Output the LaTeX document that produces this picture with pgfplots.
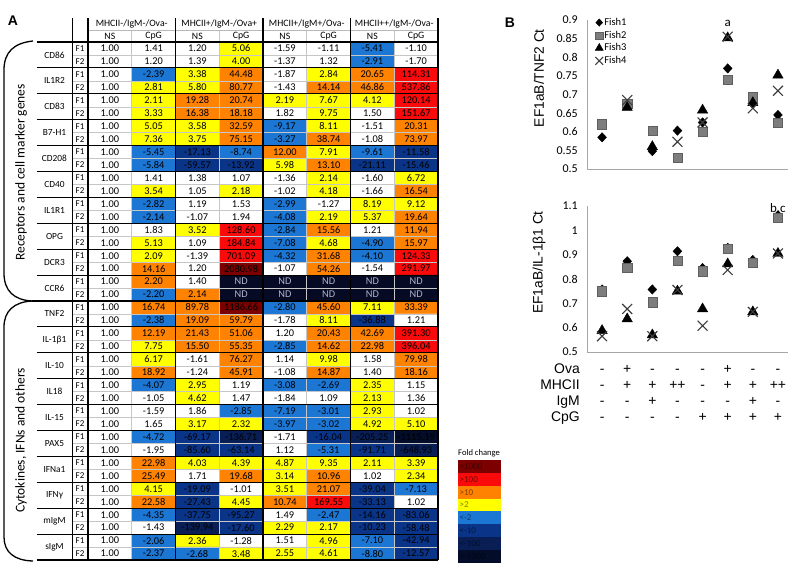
\documentclass[border=0pt]{standalone}
\usepackage{pgfplots}
\pgfplotsset{compat=1.18}
\usepackage{pgfplotstable}
\usepackage{fontspec}
\setmainfont{Carlito}
\newfontfamily\arialfont{Liberation Sans}

\definecolor{cND}{RGB}{6,10,36}
\definecolor{cM1000}{RGB}{3,12,40}
\definecolor{cM100}{RGB}{8,30,85}
\definecolor{cM10}{RGB}{10,52,135}
\definecolor{cM2}{RGB}{28,118,212}
\definecolor{cP2}{RGB}{255,255,0}
\definecolor{cP10}{RGB}{255,130,0}
\definecolor{cP100}{RGB}{250,10,10}
\definecolor{cP1000}{RGB}{125,0,0}
\definecolor{ndtext}{RGB}{175,180,205}
\definecolor{fishgray}{RGB}{125,125,125}
\definecolor{fishgrayd}{RGB}{95,95,95}
\definecolor{xgray}{RGB}{60,60,60}

% x = column, y = row, t = printed value, c = colour class
% c: 0 ND, 1 <-1000, 2 <-100, 3 <-10, 4 <-2, 5 none, 6 >2, 7 >10, 8 >100, 9 >1000
\pgfplotstableread{
x y t c
0 0 1.00 5
1 0 1.41 5
2 0 1.20 5
3 0 5.06 6
4 0 -1.59 5
5 0 -1.11 5
6 0 -5.41 4
7 0 -1.10 5
0 1 1.00 5
1 1 1.20 5
2 1 1.39 5
3 1 4.00 6
4 1 -1.37 5
5 1 1.32 5
6 1 -2.91 4
7 1 -1.70 5
0 2 1.00 5
1 2 -2.39 4
2 2 3.38 6
3 2 44.48 7
4 2 -1.87 5
5 2 2.84 6
6 2 20.65 7
7 2 114.31 8
0 3 1.00 5
1 3 2.81 6
2 3 5.80 6
3 3 80.77 7
4 3 -1.43 5
5 3 14.14 7
6 3 46.86 7
7 3 537.86 8
0 4 1.00 5
1 4 2.11 6
2 4 19.28 7
3 4 20.74 7
4 4 2.19 6
5 4 7.67 6
6 4 4.12 6
7 4 120.14 8
0 5 1.00 5
1 5 3.33 6
2 5 16.38 7
3 5 18.18 7
4 5 1.82 5
5 5 9.75 6
6 5 1.50 5
7 5 151.67 8
0 6 1.00 5
1 6 5.05 6
2 6 3.58 6
3 6 32.59 7
4 6 -9.17 4
5 6 8.11 6
6 6 -1.51 5
7 6 20.31 7
0 7 1.00 5
1 7 7.36 6
2 7 3.75 6
3 7 75.15 7
4 7 -3.27 4
5 7 38.74 7
6 7 -1.08 5
7 7 73.97 7
0 8 1.00 5
1 8 -5.45 4
2 8 -17.13 3
3 8 -8.74 4
4 8 12.00 7
5 8 7.91 6
6 8 -9.61 4
7 8 -11.58 3
0 9 1.00 5
1 9 -5.84 4
2 9 -59.57 3
3 9 -13.92 3
4 9 5.98 6
5 9 13.10 7
6 9 -21.11 3
7 9 -15.46 3
0 10 1.00 5
1 10 1.41 5
2 10 1.38 5
3 10 1.07 5
4 10 -1.36 5
5 10 2.14 6
6 10 -1.60 5
7 10 6.72 6
0 11 1.00 5
1 11 3.54 6
2 11 1.05 5
3 11 2.18 6
4 11 -1.02 5
5 11 4.18 6
6 11 -1.66 5
7 11 16.54 7
0 12 1.00 5
1 12 -2.82 4
2 12 1.19 5
3 12 1.53 5
4 12 -2.99 4
5 12 -1.27 5
6 12 8.19 6
7 12 9.12 6
0 13 1.00 5
1 13 -2.14 4
2 13 -1.07 5
3 13 1.94 5
4 13 -4.08 4
5 13 2.19 6
6 13 5.37 6
7 13 19.64 7
0 14 1.00 5
1 14 1.83 5
2 14 3.52 6
3 14 128.60 8
4 14 -2.84 4
5 14 15.56 7
6 14 1.21 5
7 14 11.94 7
0 15 1.00 5
1 15 5.13 6
2 15 1.09 5
3 15 184.84 8
4 15 -7.08 4
5 15 4.68 6
6 15 -4.90 4
7 15 15.97 7
0 16 1.00 5
1 16 2.09 6
2 16 -1.39 5
3 16 701.09 8
4 16 -4.32 4
5 16 31.68 7
6 16 -4.10 4
7 16 124.33 8
0 17 1.00 5
1 17 14.16 7
2 17 1.20 5
3 17 2080.98 9
4 17 -1.07 5
5 17 54.26 7
6 17 -1.54 5
7 17 291.97 8
0 18 1.00 5
1 18 2.20 7
2 18 1.40 5
3 18 ND 0
4 18 ND 0
5 18 ND 0
6 18 ND 0
7 18 ND 0
0 19 1.00 5
1 19 -2.20 4
2 19 2.14 7
3 19 ND 0
4 19 ND 0
5 19 ND 0
6 19 ND 0
7 19 ND 0
0 20 1.00 5
1 20 16.74 7
2 20 89.78 7
3 20 1186.66 9
4 20 -2.80 4
5 20 45.60 7
6 20 7.11 6
7 20 33.39 7
0 21 1.00 5
1 21 -2.38 4
2 21 19.09 7
3 21 59.79 7
4 21 -1.78 5
5 21 8.11 6
6 21 -36.88 3
7 21 1.21 5
0 22 1.00 5
1 22 12.19 7
2 22 21.43 7
3 22 51.06 7
4 22 1.20 5
5 22 20.43 7
6 22 42.69 7
7 22 391.30 8
0 23 1.00 5
1 23 7.75 6
2 23 15.50 7
3 23 55.35 7
4 23 -2.85 4
5 23 14.62 7
6 23 22.98 7
7 23 396.04 8
0 24 1.00 5
1 24 6.17 6
2 24 -1.61 5
3 24 76.27 7
4 24 1.14 5
5 24 9.98 6
6 24 1.58 5
7 24 79.98 7
0 25 1.00 5
1 25 18.92 7
2 25 -1.24 5
3 25 45.91 7
4 25 -1.08 5
5 25 14.87 7
6 25 1.40 5
7 25 18.16 7
0 26 1.00 5
1 26 -4.07 4
2 26 2.95 6
3 26 1.19 5
4 26 -3.08 4
5 26 -2.69 4
6 26 2.35 6
7 26 1.15 5
0 27 1.00 5
1 27 -1.05 5
2 27 4.62 6
3 27 1.47 5
4 27 -1.84 5
5 27 1.09 5
6 27 2.13 6
7 27 1.36 5
0 28 1.00 5
1 28 -1.59 5
2 28 1.86 5
3 28 -2.85 4
4 28 -7.19 4
5 28 -3.01 4
6 28 2.93 6
7 28 1.02 5
0 29 1.00 5
1 29 1.65 5
2 29 3.17 6
3 29 2.32 6
4 29 -3.97 4
5 29 -3.02 4
6 29 4.92 6
7 29 5.10 6
0 30 1.00 5
1 30 -4.72 4
2 30 -69.17 3
3 30 -136.71 2
4 30 -1.71 5
5 30 -16.04 3
6 30 -205.25 2
7 30 -1115.19 1
0 31 1.00 5
1 31 -1.95 5
2 31 -85.60 3
3 31 -63.14 3
4 31 1.12 5
5 31 -5.31 4
6 31 -91.71 3
7 31 -648.93 2
0 32 1.00 5
1 32 22.98 7
2 32 4.03 6
3 32 4.39 6
4 32 4.87 6
5 32 9.35 6
6 32 2.11 6
7 32 3.39 6
0 33 1.00 5
1 33 25.49 7
2 33 1.71 5
3 33 19.68 7
4 33 3.14 6
5 33 10.96 7
6 33 1.02 5
7 33 2.34 6
0 34 1.00 5
1 34 4.15 6
2 34 -19.09 3
3 34 -1.01 5
4 34 3.51 6
5 34 21.07 7
6 34 -39.04 3
7 34 -7.13 4
0 35 1.00 5
1 35 22.58 7
2 35 -27.43 3
3 35 4.45 6
4 35 10.74 7
5 35 169.55 8
6 35 -33.13 3
7 35 1.02 5
0 36 1.00 5
1 36 -4.35 4
2 36 -37.75 3
3 36 -95.27 3
4 36 1.49 5
5 36 -2.47 4
6 36 -14.16 3
7 36 -83.06 3
0 37 1.00 5
1 37 -1.43 5
2 37 -139.94 2
3 37 -17.60 3
4 37 2.29 6
5 37 2.17 6
6 37 -10.23 3
7 37 -58.48 3
0 38 1.00 5
1 38 -2.06 4
2 38 2.36 6
3 38 -1.28 5
4 38 1.51 5
5 38 4.96 6
6 38 -7.10 4
7 38 -42.94 3
0 39 1.00 5
1 39 -2.37 4
2 39 -2.68 4
3 39 3.48 6
4 39 2.55 6
5 39 4.61 6
6 39 -8.80 4
7 39 -12.57 3
}\tbl

\newcommand\pmcol[4]{\strut#1\\\strut#2\\\strut#3\\\strut#4}

\pgfplotsset{
  bstyle/.style={
    scale only axis, width=201bp, xmin=0.4, xmax=8.4,
    axis x line*=bottom, axis y line*=left,
    axis line style={draw=gray!70, line width=0.7bp},
    major tick length=0pt, clip=false,
    /pgf/number format/assume math mode=true,
    yticklabel style={font=\fontsize{12}{14}\selectfont, inner sep=0pt, xshift=-9bp},
    ylabel style={font=\arialfont\fontsize{13.8}{16}\selectfont, anchor=center},
  },
  f1/.style={only marks, mark=diamond*, mark size=4.7bp, mark options={fill=black, draw=black, xscale=1.25}},
  f2/.style={only marks, mark=square*, mark size=4.6bp, mark options={fill=fishgray, draw=fishgrayd}},
  f3/.style={only marks, mark=triangle*, mark size=6bp, mark options={fill=black, draw=black}},
  f4/.style={only marks, mark=x, mark size=7bp, mark options={draw=xgray, line width=1.1bp}},
  celltext/.style={draw=none, mark=none, point meta=explicit symbolic, nodes near coords,
    every node near coord/.append style={anchor=center, inner sep=0pt, font=\fontsize{10.4}{12}\selectfont}},
}

\begin{document}
\begin{tikzpicture}
\useasboundingbox (0,0) rectangle (790bp,563bp);

% ---------------- Panel A ----------------
\node[font=\arialfont\bfseries\fontsize{14}{16}\selectfont] at (13bp,542bp) {A};

\begin{axis}[
  at={(88bp,3bp)}, anchor=south west, scale only axis,
  width=350bp, height=518bp,
  xmin=-0.5, xmax=7.5, ymin=-0.5, ymax=39.5, y dir=reverse,
  enlargelimits=false, hide axis, clip=false,
  colormap={fold}{color=(cND) color=(cM1000) color=(cM100) color=(cM10) color=(cM2)
    color=(white) color=(cP2) color=(cP10) color=(cP100) color=(cP1000)},
  colormap access=direct,
]
\addplot[matrix plot*, mesh/cols=8, point meta=explicit] table[x=x, y=y, meta=c] {\tbl};
\addplot[celltext, x filter/.expression={\thisrow{c}<0.5 ? nan : x},
  every node near coord/.append style={text=black}] table[x=x, y=y, meta=t] {\tbl};
\addplot[celltext, x filter/.expression={\thisrow{c}<0.5 ? x : nan},
  every node near coord/.append style={text=ndtext}] table[x=x, y=y, meta=t] {\tbl};

% table rules
\pgfplotsinvokeforeach{0,...,19}{
  \draw[gray!45, line width=0.5bp] (axis cs:-0.866,{2*#1+0.5}) -- (axis cs:7.5,{2*#1+0.5});
}
\pgfplotsinvokeforeach{0.5,2.5,4.5,6.5}{
  \draw[gray!45, line width=0.5bp] (axis cs:#1,-1.427) -- (axis cs:#1,39.5);
}
\draw[gray!55, line width=0.5bp] (axis cs:-0.5,-1.427) -- (axis cs:7.5,-1.427);
\pgfplotsinvokeforeach{1,...,9,11,12,...,20}{
  \draw[black, line width=1.15bp] (axis cs:-1.666,{2*#1-0.5}) -- (axis cs:7.5,{2*#1-0.5});
}
\draw[black, line width=1.7bp] (axis cs:-1.666,-0.5) -- (axis cs:7.5,-0.5);
\draw[black, line width=2.2bp] (axis cs:-1.78,19.5) -- (axis cs:7.5,19.5);
\draw[black, line width=0.8bp] (axis cs:-0.866,-2.353) -- (axis cs:-0.866,39.5);
\draw[black, line width=1.3bp] (axis cs:-0.5,-2.353) -- (axis cs:-0.5,39.5);
\pgfplotsinvokeforeach{1.5,3.5,5.5}{
  \draw[black, line width=1.1bp] (axis cs:#1,-2.353) -- (axis cs:#1,39.5);
}
\draw[black, line width=1.3bp] (axis cs:7.5,-2.353) -- (axis cs:7.5,39.5);

% header
\begin{scope}[every node/.style={font=\fontsize{9.8}{11}\selectfont, inner sep=0pt}]
\node at (axis cs:0.5,-1.89) {MHCII-/IgM-/Ova-};
\node at (axis cs:2.5,-1.89) {MHCII+/IgM-/Ova+};
\node at (axis cs:4.5,-1.89) {MHCII+/IgM+/Ova-};
\node at (axis cs:6.5,-1.89) {MHCII++/IgM-/Ova-};
\pgfplotsinvokeforeach{0,2,4,6}{
  \node at (axis cs:#1,-0.963) {NS};
}
\pgfplotsinvokeforeach{1,3,5,7}{
  \node at (axis cs:#1,-0.963) {CpG};
}
\end{scope}

% gene names and F1/F2
\begin{scope}[every node/.style={font=\fontsize{9.4}{11}\selectfont, inner sep=0pt}]
\node at (axis cs:-1.266,0.5) {CD86};
\node at (axis cs:-1.266,2.5) {IL1R2};
\node at (axis cs:-1.266,4.5) {CD83};
\node at (axis cs:-1.266,6.5) {B7-H1};
\node at (axis cs:-1.266,8.5) {CD208};
\node at (axis cs:-1.266,10.5) {CD40};
\node at (axis cs:-1.266,12.5) {IL1R1};
\node at (axis cs:-1.266,14.5) {OPG};
\node at (axis cs:-1.266,16.5) {DCR3};
\node at (axis cs:-1.266,18.5) {CCR6};
\node at (axis cs:-1.266,20.5) {TNF2};
\node at (axis cs:-1.266,22.5) {IL-1β1};
\node at (axis cs:-1.266,24.5) {IL-10};
\node at (axis cs:-1.266,26.5) {IL18};
\node at (axis cs:-1.266,28.5) {IL-15};
\node at (axis cs:-1.266,30.5) {PAX5};
\node at (axis cs:-1.266,32.5) {IFNa1};
\node at (axis cs:-1.266,34.5) {IFNγ};
\node at (axis cs:-1.266,36.5) {mIgM};
\node at (axis cs:-1.266,38.5) {sIgM};
\end{scope}
\begin{scope}[every node/.style={font=\fontsize{9}{11}\selectfont, inner sep=0pt}]
\pgfplotsinvokeforeach{0,...,19}{
  \node at (axis cs:-0.683,{2*#1}) {F1};
  \node at (axis cs:-0.683,{2*#1+1}) {F2};
}
\end{scope}
\end{axis}

% group brackets and labels
\draw[black, line width=1.3bp] (33bp,522bp) .. controls (14bp,520bp) and (4bp,511bp) .. (4bp,493bp)
  -- (4bp,290bp) .. controls (4bp,272bp) and (14bp,263bp) .. (32bp,262bp);
\draw[black, line width=1.3bp] (32bp,262bp) .. controls (14bp,261bp) and (4bp,252bp) .. (4bp,236bp)
  -- (4bp,26bp) .. controls (4bp,11bp) and (14bp,2.5bp) .. (33bp,2bp);
\node[rotate=90, font=\fontsize{13.5}{16}\selectfont] at (21bp,390.5bp) {Receptors and cell marker genes};
\node[rotate=90, font=\fontsize{13.5}{16}\selectfont] at (21bp,122.5bp) {Cytokines, IFNs and others};

% fold change key
\node[anchor=base west, inner sep=0pt, font=\fontsize{8.6}{10}\selectfont] at (458bp,107bp) {Fold change};
\foreach \col/\txt [count=\k from 0] in {cP1000/{>1000}, cP100/{>100}, cP10/{>10}, cP2/{>2}, cM2/{<-2}, cM10/{<-10}, cM100/{<-100}, cM1000/{<-1000}}{
  \pgfmathsetmacro\ya{103-12.85*\k}
  \pgfmathsetmacro\yb{103-12.85*(\k+1)}
  \pgfmathsetmacro\yc{103-12.85*(\k+0.5)}
  \fill[\col] (458bp,\ya bp) rectangle (501bp,\yb bp);
  \node[anchor=west, inner sep=0pt, font=\fontsize{9}{10}\selectfont, text=black, text opacity=0.5]
    at (459.5bp,\yc bp) {\txt};
}

% ---------------- Panel B ----------------
\node[font=\arialfont\bfseries\fontsize{14}{16}\selectfont] at (510bp,540bp) {B};

\begin{axis}[bstyle,
  at={(587bp,394bp)}, anchor=south west, height=149bp,
  ymin=0.5, ymax=0.9, ytick={0.5,0.55,0.6,0.65,0.7,0.75,0.8,0.85,0.9},
  xtick=\empty,
  ylabel={EF1aB/TNF2 Ct},
  ylabel style={at={(rel axis cs:-0.239,0.61)}},
  legend style={at={(rel axis cs:0,1)}, anchor=north west, xshift=8bp, yshift=3bp,
    draw=none, fill=none, font=\fontsize{10.5}{12}\selectfont, inner sep=0pt,
    row sep=2bp, nodes={inner sep=1bp}},
  legend image code/.code={\draw[mark repeat=2,mark phase=2,#1,/tikz/every mark/.append style={scale=0.78}] plot coordinates {(0cm,0cm) (0.14cm,0cm) (0.28cm,0cm)};},
]
\addplot[f1] coordinates {(1,0.585) (2,0.672) (3,0.548) (4,0.603) (5,0.625) (6,0.77) (7,0.675) (8,0.645)};
\addlegendentry{Fish1}
\addplot[f2] coordinates {(1,0.62) (2,0.675) (3,0.603) (4,0.53) (5,0.6) (6,0.74) (7,0.693) (8,0.625)};
\addlegendentry{Fish2}
\addplot[f3] coordinates {(2,0.665) (3,0.56) (5,0.658) (6,0.852) (7,0.678) (8,0.752)};
\addlegendentry{Fish3}
\addplot[f4] coordinates {(2,0.685) (4,0.573) (5,0.625) (6,0.855) (7,0.663) (8,0.71)};
\addlegendentry{Fish4}
\node[font=\fontsize{13}{15}\selectfont] at (axis cs:6,0.892) {a};
\end{axis}

\begin{axis}[bstyle,
  at={(587bp,211bp)}, anchor=south west, height=146bp,
  ymin=0.5, ymax=1.1, ytick={0.5,0.6,0.7,0.8,0.9,1,1.1},
  xtick={1,2,3,4,5,6,7,8},
  xticklabels={{\pmcol{-}{-}{-}{-}}, {\pmcol{+}{+}{-}{-}}, {\pmcol{-}{+}{+}{-}}, {\pmcol{-}{++}{-}{-}},
               {\pmcol{-}{-}{-}{+}}, {\pmcol{+}{+}{-}{+}}, {\pmcol{-}{+}{+}{+}}, {\pmcol{-}{++}{-}{+}}},
  xticklabel style={font=\arialfont\fontsize{14}{16.2}\selectfont, align=center, inner sep=0pt, anchor=north, yshift=-9.7bp},
  ylabel={EF1aB/IL-1β1 Ct},
  ylabel style={at={(rel axis cs:-0.239,0.613)}},
]
\addplot[f1] coordinates {(1,0.757) (2,0.873) (3,0.757) (4,0.914) (5,0.845) (6,0.928) (7,0.878) (8,1.062)};
\addplot[f2] coordinates {(1,0.75) (2,0.848) (3,0.705) (4,0.876) (5,0.832) (6,0.923) (7,0.868) (8,1.053)};
\addplot[f3] coordinates {(1,0.588) (2,0.636) (3,0.57) (4,0.75) (5,0.677) (6,0.862) (7,0.665) (8,0.905)};
\addplot[f4] coordinates {(1,0.565) (2,0.677) (3,0.565) (4,0.755) (5,0.608) (6,0.837) (7,0.665) (8,0.905)};
\node[font=\fontsize{13}{15}\selectfont] at (axis cs:8,1.09) {b,c};
\node[anchor=north east, align=right, inner sep=0pt, xshift=-7bp, yshift=-9.7bp,
  font=\arialfont\fontsize{14}{16.2}\selectfont] at (rel axis cs:0,0)
  {\strut Ova\\\strut MHCII\\\strut IgM\\\strut CpG};
\end{axis}
\end{tikzpicture}
\end{document}
